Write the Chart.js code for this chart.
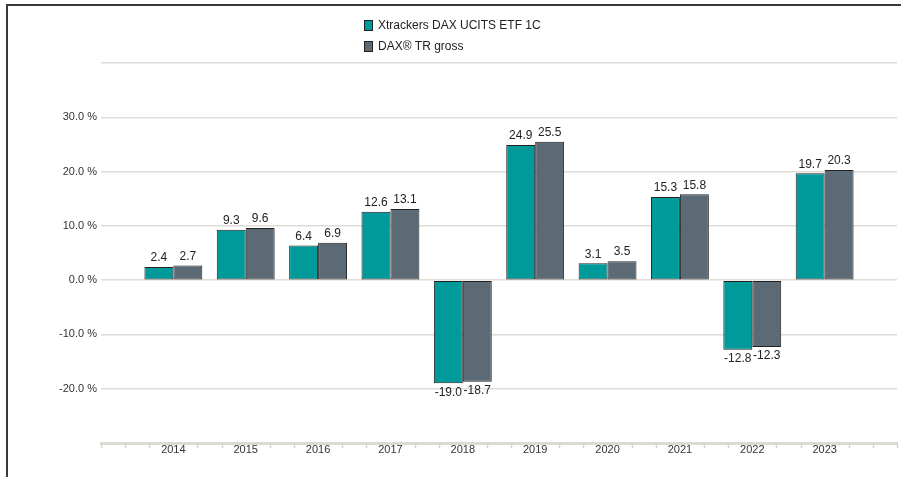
<!DOCTYPE html>
<html>
<head>
<meta charset="utf-8">
<script src="https://cdn.jsdelivr.net/npm/chart.js@4/dist/chart.umd.min.js"></script>
<style>
  html, body { margin: 0; padding: 0; background: #fff; overflow: hidden; }
  #frame { position: absolute; left: 6px; top: 4px; width: 1000px; height: 1000px;
           border-left: 2px solid #3a3a3a; border-top: 2px solid #3a3a3a; }
  #chart { position: absolute; left: 0; top: 0; }
</style>
</head>
<body>
<div id="frame"></div>
<canvas id="chart" width="901" height="477"></canvas>
<script>
const years = ['2014','2015','2016','2017','2018','2019','2020','2021','2022','2023'];
const etfReturns = [2.4, 9.3, 6.4, 12.6, -19.0, 24.9, 3.1, 15.3, -12.8, 19.7];
const indexReturns = [2.7, 9.6, 6.9, 13.1, -18.7, 25.5, 3.5, 15.8, -12.3, 20.3];
const seriesNames = ['Xtrackers DAX UCITS ETF 1C', 'DAX\u00ae TR gross'];
const seriesColors = ['#009a9b', '#5b6a75'];

const FONT = "'Liberation Sans', Arial, sans-serif";

// empty slot at each end so the axis runs a year past the outer bars
const labels = ['', ...years, ''];
const pad = arr => [null, ...arr, null];

const valueLabels = {
  id: 'valueLabels',
  afterDatasetsDraw(chart){
    const ctx = chart.ctx;
    ctx.save();
    ctx.font = '12px ' + FONT;
    ctx.fillStyle = '#222';
    ctx.textAlign = 'center';
    chart.data.datasets.forEach((ds, di) => {
      chart.getDatasetMeta(di).data.forEach((el, i) => {
        const v = ds.data[i];
        if(v === null) return;
        if(v >= 0){
          ctx.textBaseline = 'bottom';
          ctx.fillText(v.toFixed(1), el.x, el.y - 3);
        } else {
          ctx.textBaseline = 'top';
          ctx.fillText(v.toFixed(1), el.x, el.y + 3);
        }
      });
    });
    ctx.restore();
  }
};

// small ticks on the x axis at thirds of each year, not where a label sits
const minorTicks = {
  id: 'minorTicks',
  afterDraw(chart){
    const x = chart.scales.x;
    const ctx = chart.ctx;
    const y0 = chart.chartArea.bottom;
    ctx.save();
    ctx.strokeStyle = '#d6d4cb';
    ctx.lineWidth = 1.5;
    for(let i = 0; i < labels.length; i++){
      const p = x.getPixelForValue(i);
      const next = i < labels.length - 1 ? x.getPixelForValue(i + 1) : null;
      const steps = next === null ? [0] : [0, 1, 2];
      steps.forEach(k => {
        if(k === 0 && labels[i] !== '') return;
        const px = Math.round(p + (next === null ? 0 : (next - p) * k / 3)) + 0.5;
        ctx.beginPath();
        ctx.moveTo(px, y0);
        ctx.lineTo(px, y0 + 5);
        ctx.stroke();
      });
    }
    ctx.restore();
  }
};

const legendBlock = {
  id: 'legendBlock',
  afterDraw(chart){
    const ctx = chart.ctx;
    ctx.save();
    ctx.font = '12px ' + FONT;
    ctx.textBaseline = 'middle';
    ctx.textAlign = 'left';
    chart.data.datasets.forEach((ds, i) => {
      const cy = 25 + i * 21;
      ctx.fillStyle = ds.backgroundColor;
      ctx.fillRect(364.5, cy - 4.5, 8, 10);
      ctx.strokeStyle = '#222';
      ctx.lineWidth = 1;
      ctx.strokeRect(364.5, cy - 4.5, 8, 10);
      ctx.fillStyle = '#222';
      ctx.fillText(ds.label, 378, cy + 1);
    });
    ctx.restore();
  }
};

new Chart(document.getElementById('chart'), {
  type: 'bar',
  data: {
    labels,
    datasets: [
      { label: seriesNames[0], data: pad(etfReturns), backgroundColor: seriesColors[0],
        borderColor: '#222', borderWidth: 1, borderSkipped: false },
      { label: seriesNames[1], data: pad(indexReturns), backgroundColor: seriesColors[1],
        borderColor: '#222', borderWidth: 1, borderSkipped: false }
    ]
  },
  options: {
    responsive: false,
    animation: false,
    layout: { padding: { top: 63, right: 4, bottom: 0, left: 0 } },
    categoryPercentage: 0.8,
    barPercentage: 1.0,
    plugins: { legend: { display: false }, tooltip: { enabled: false } },
    scales: {
      x: {
        offset: false,
        grid: { display: false, offset: false, drawTicks: false },
        border: { display: true, color: '#dcdad2', width: 3 },
        ticks: { color: '#333', font: { size: 11, family: FONT }, padding: 0, autoSkip: false, maxRotation: 0 },
        afterFit(scale){ scale.height = 34; }
      },
      y: {
        min: -30,
        max: 40,
        ticks: {
          stepSize: 10,
          color: '#333',
          font: { size: 11, family: FONT },
          padding: 4,
          callback: v => (v >= 40 || v <= -30) ? '' : v.toFixed(1) + ' %'
        },
        grid: { color: '#dedcd4', lineWidth: 1.5, drawTicks: false },
        border: { display: false },
        afterFit(scale){ scale.width = 101; }
      }
    }
  },
  plugins: [valueLabels, minorTicks, legendBlock]
});
</script>
</body>
</html>
